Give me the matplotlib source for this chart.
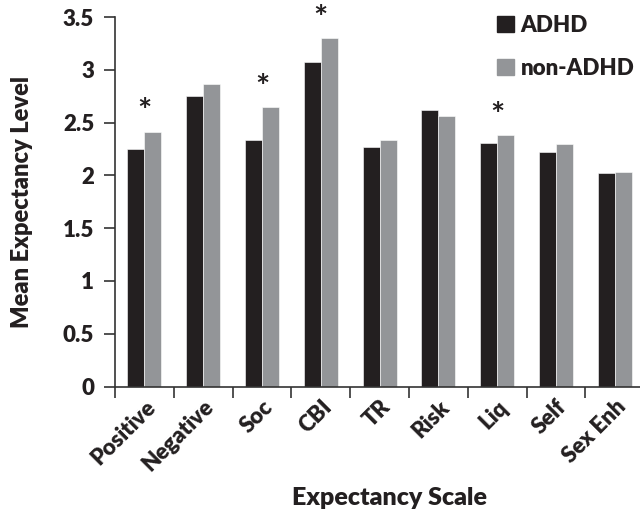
import numpy as np
import matplotlib
matplotlib.use("Agg")
import matplotlib.pyplot as plt
from matplotlib.patches import Patch

plt.rcParams['font.family'] = ['Lato', 'DejaVu Sans']
plt.rcParams['font.weight'] = 'heavy'

scales = ["Positive", "Negative", "Soc", "CBI", "TR", "Risk", "Liq", "Self", "Sex Enh"]
adhd = [2.25, 2.755, 2.335, 3.075, 2.265, 2.615, 2.305, 2.225, 2.025]
non_adhd = [2.415, 2.865, 2.65, 3.30, 2.335, 2.56, 2.38, 2.30, 2.035]
significant = [True, False, True, True, False, False, True, False, False]

c_adhd = "#231f20"
c_non = "#939598"
txt = "#231f20"
bw = "heavy"

fig = plt.figure(figsize=(6.4, 5.16), dpi=100)
ax = fig.add_axes([115 / 640, 1 - 386.5 / 516, 525 / 640, 369.5 / 516])

x = np.arange(len(scales))
w = 0.29
ax.bar(x - w / 2, adhd, w, color=c_adhd, edgecolor="white", linewidth=0.4)
ax.bar(x + w / 2, non_adhd, w, color=c_non, edgecolor="white", linewidth=0.4)

# asterisks for significant differences
for i, sig in enumerate(significant):
    if sig:
        ax.text(x[i], non_adhd[i] + 0.04, "*", ha="center", va="bottom",
                fontsize=24, color=txt, fontweight="bold")

ax.set_ylim(0, 3.5)
ax.set_xlim(-0.5, 8.43)
ax.set_yticks(np.arange(0, 3.51, 0.5))
ax.set_yticklabels(["0", "0.5", "1", "1.5", "2", "2.5", "3", "3.5"])
ax.set_xticks(np.arange(-0.5, 8.5, 1.0))
ax.set_xticklabels([])
ax.set_xticks(x, minor=True)
ax.set_xticklabels(scales, minor=True, rotation=45, ha="right",
                   rotation_mode="anchor", fontsize=16, color=txt, fontweight=bw)
ax.tick_params(axis="x", which="minor", length=0, pad=7)
ax.tick_params(axis="x", which="major", length=8, width=1.2, color="#333333")
ax.tick_params(axis="y", length=8, width=1.2, color="#333333", labelsize=16,
               labelcolor=txt, pad=7)
for t in ax.get_yticklabels():
    t.set_fontweight(bw)

for s in ["top", "right"]:
    ax.spines[s].set_visible(False)
for s in ["left", "bottom"]:
    ax.spines[s].set_linewidth(1.2)
    ax.spines[s].set_color("#333333")

ax.set_ylabel("Mean Expectancy Level", fontsize=17, fontweight=bw, color=txt)
ax.set_xlabel("Expectancy Scale", fontsize=18, fontweight=bw, color=txt)
ax.yaxis.set_label_coords(-93 / 525, 0.5)
ax.xaxis.set_label_coords((389 - 115) / 525, -(498 - 386.5) / 369.5)
ax.xaxis.label.set_va("center")
ax.yaxis.label.set_va("center")

handles = [Patch(color=c_adhd, label="ADHD"), Patch(color=c_non, label="non-ADHD")]
leg = ax.legend(handles=handles, loc="upper left", bbox_to_anchor=(0.69, 1.06),
                frameon=False, fontsize=16, handlelength=0.75, handleheight=0.75,
                handletextpad=0.3, labelspacing=1.0)
for t in leg.get_texts():
    t.set_color(txt)
    t.set_fontweight(bw)

fig.savefig("out.png", dpi=100)
